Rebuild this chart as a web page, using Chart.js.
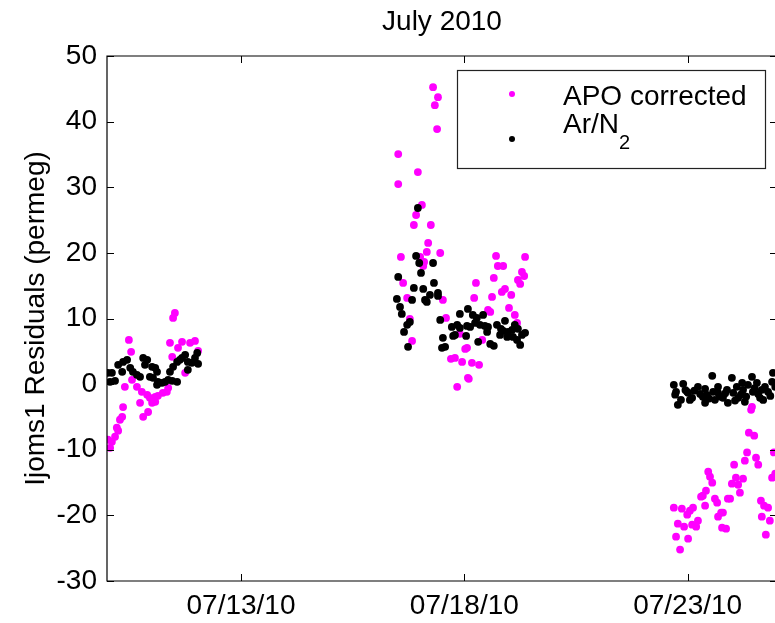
<!DOCTYPE html>
<html>
<head>
<meta charset="utf-8">
<script src="https://cdn.jsdelivr.net/npm/chart.js@4.4.1/dist/chart.umd.min.js"></script>
<style>
  html, body { margin: 0; padding: 0; overflow: hidden; background: #fff; }
  #wrap { width: 790px; height: 623px; }
</style>
</head>
<body>
<div id="wrap"><canvas id="c" width="790" height="623"></canvas></div>
<script>
// Labels
const chartTitle = 'July 2010';
const yAxisTitle = 'Ijoms1 Residuals (permeg)';
const seriesLabels = ['APO corrected', 'Ar/N2'];

// Axis ranges and ticks (x in days of July 2010)
const xRange = [10, 25];
const xTickDays = [13, 18, 23];
const yRange = [-30, 50];
const yStep = 10;

// APO corrected residuals
const apoDay = [
  11.52,11.48,10.49,10.54,11.41,11.68,11.59,11.86,11.97,12.04,11.46,11.75,10.40,10.56,10.67,10.78,10.90,10.96,11.08,11.14,
  11.25,11.34,11.37,10.74,11.01,11.08,10.36,10.92,10.34,10.29,10.81,10.22,10.25,10.18,10.02,10.11,10.07,
  17.30,17.41,17.34,17.39,16.52,16.96,16.52,17.05,16.92,16.87,17.25,17.19,17.16,17.46,16.58,17.01,17.10,17.08,16.63,16.72,
  17.52,16.78,17.59,16.83,17.70,17.79,17.84,18.71,19.36,18.75,18.87,19.29,19.34,18.26,18.66,19.20,19.25,18.84,18.91,19.05,
  18.62,18.22,19.00,18.53,18.58,19.13,19.18,18.40,18.02,18.06,17.95,18.17,18.33,18.08,18.10,17.90,
  24.44,24.42,24.37,24.49,24.33,24.28,24.04,24.53,24.58,24.93,23.46,23.50,23.55,24.08,23.99,24.13,24.24,24.17,23.41,23.30,
  23.34,23.39,23.61,23.66,23.90,23.95,22.69,22.87,22.99,23.05,23.12,23.75,23.79,23.68,22.78,22.92,23.10,23.19,23.23,23.77,
  23.86,22.74,23.01,22.83,24.64,24.71,24.80,24.66,24.84,24.75,24.89,24.96
];
const apoValue = [
  10.85,10.09,6.74,4.92,6.29,6.44,5.53,6.29,6.59,5.07,4.16,1.72,-0.41,0.65,-0.41,-1.17,-1.63,-2.08,-1.93,-1.78,
  -1.32,-1.17,-0.56,-2.85,-2.85,-2.69,-3.49,-4.25,-4.98,-5.43,-4.98,-6.65,-7.10,-8.02,-8.47,-8.78,-9.70,
  45.25,43.73,42.51,38.86,35.05,32.31,30.49,27.30,25.77,24.25,24.25,21.51,20.14,19.98,19.38,19.38,18.61,18.00,15.42,13.13,
  12.83,9.94,10.09,6.59,3.85,4.00,-0.41,19.53,19.38,18.00,18.00,17.09,16.48,15.42,16.18,15.88,15.27,14.05,14.51,13.59,
  13.29,13.13,11.61,11.31,11.00,10.55,9.33,6.74,5.37,5.53,3.39,3.24,2.94,0.96,0.81,7.66,
  -3.46,-3.91,-7.40,-7.86,-10.40,-11.67,-12.28,-11.22,-12.28,-10.40,-13.35,-14.11,-15.02,-14.26,-15.17,-15.33,-14.41,-16.54,-16.24,-17.15,
  -17.00,-18.52,-17.46,-18.07,-17.46,-17.46,-18.83,-18.98,-19.89,-19.28,-18.83,-19.58,-19.58,-20.20,-21.26,-21.72,-21.42,-21.72,-20.81,-21.87,
  -22.02,-23.24,-23.55,-25.21,-17.76,-18.52,-18.83,-20.20,-20.81,-22.94,-14.26,-13.65
];

// Ar/N2 residuals
const arDay = [
  10.02,10.11,10.07,10.18,10.25,10.36,10.45,10.34,10.52,10.58,10.67,10.74,10.81,10.90,10.85,11.01,11.08,11.12,10.96,11.03,
  11.14,11.12,11.23,11.30,11.37,11.46,11.57,11.41,11.48,11.57,11.68,11.75,11.63,11.81,11.90,12.02,11.97,12.04,11.81,
  16.96,16.92,16.99,17.30,17.03,16.52,16.87,17.08,17.32,17.23,17.41,17.41,17.16,17.12,16.49,16.83,16.56,16.60,16.78,16.72,
  16.65,16.74,17.46,17.72,17.84,17.90,17.79,17.75,17.52,17.50,17.57,18.08,18.19,18.28,18.42,17.90,18.06,18.13,18.24,18.35,
  18.46,18.53,18.73,18.82,18.87,18.91,18.98,19.07,19.13,19.20,19.29,19.36,18.04,18.31,18.58,18.66,18.80,18.96,19.09,19.18,
  19.25,18.51,
  22.69,22.78,22.90,22.99,23.01,23.10,23.23,23.34,23.39,23.43,23.55,23.57,23.61,23.68,23.79,23.88,23.90,23.99,24.02,24.10,
  24.13,24.22,24.24,24.28,24.35,24.44,24.46,24.55,24.62,24.66,24.73,24.80,24.89,24.91,24.96,22.85,23.39,23.68,22.74,
  22.72,22.95,23.05,23.15,23.28,23.48,23.72,23.84,24.06,24.19,24.31,24.50,24.58,24.69,24.85
];
const arValue = [
  1.72,1.72,0.35,0.50,2.94,3.39,3.70,1.87,2.48,1.87,1.42,1.11,4.00,3.70,2.94,2.63,2.48,1.87,1.11,0.96,
  0.35,-0.11,0.20,0.35,0.65,0.50,0.35,1.87,2.63,3.39,4.00,4.46,3.70,3.39,3.24,4.76,4.00,3.09,2.18,
  26.84,19.53,18.46,18.46,16.94,16.33,14.66,14.51,15.42,13.59,13.90,13.44,12.53,12.83,12.98,12.83,11.77,10.70,9.48,9.03,
  7.96,5.68,9.79,8.72,9.03,10.70,7.50,7.35,7.05,5.53,5.68,11.46,10.55,10.09,10.55,8.57,8.87,8.72,9.33,9.03,
  8.87,8.72,9.03,8.42,8.11,9.64,7.96,8.27,9.03,8.42,7.50,7.81,7.35,6.44,6.13,5.83,7.50,7.20,7.20,6.74,
  5.98,7.96,
  -0.11,-3.15,0.05,-1.17,-1.32,-2.08,-0.41,-1.93,-2.85,-1.63,1.26,-1.17,-2.39,-1.32,-2.08,-0.87,-2.85,0.96,-1.32,-0.41,
  -2.08,0.20,-0.87,-2.69,-0.11,1.11,-1.17,0.20,-2.08,-0.87,-0.41,-1.17,0.35,1.72,-0.41,-2.39,-0.72,-0.41,-1.17,
  -1.60,-0.90,-2.40,-1.00,-1.50,-2.20,-1.90,-1.40,-2.50,-1.60,-1.90,-0.60,-1.50,-2.40,-1.80
];

const FONT = "'Liberation Sans', Arial, Helvetica, sans-serif";
Chart.defaults.font.family = FONT;
Chart.defaults.color = '#000';

const toPoints = (xs, ys) => xs.map((x, i) => ({ x: x, y: ys[i] }));
const pad2 = n => (n < 10 ? '0' : '') + n;

// Box frame with inward ticks on all four sides, plus the legend box
const framePlugin = {
  id: 'frame',
  afterDatasetsDraw(chart) {
    const { ctx, chartArea: a, scales } = chart;
    const tl = 7;
    ctx.save();
    ctx.strokeStyle = '#000';
    ctx.lineWidth = 1.2;
    ctx.beginPath();
    ctx.rect(a.left, a.top, a.right - a.left, a.bottom - a.top);
    ctx.stroke();
    ctx.lineWidth = 1;
    ctx.beginPath();
    scales.x.ticks.forEach(t => {
      const px = Math.round(scales.x.getPixelForValue(t.value)) + 0.5;
      ctx.moveTo(px, a.bottom); ctx.lineTo(px, a.bottom - tl);
      ctx.moveTo(px, a.top); ctx.lineTo(px, a.top + tl);
    });
    scales.y.ticks.forEach(t => {
      const py = Math.round(scales.y.getPixelForValue(t.value)) + 0.5;
      ctx.moveTo(a.left, py); ctx.lineTo(a.left + tl, py);
      ctx.moveTo(a.right, py); ctx.lineTo(a.right - tl, py);
    });
    ctx.stroke();
    ctx.restore();
  },
  afterDraw(chart) {
    const { ctx, chartArea: a } = chart;
    const w = 308, h = 98;
    const left = a.left + 350, top = a.top + 14;
    ctx.save();
    ctx.fillStyle = '#fff';
    ctx.fillRect(left, top, w, h);
    ctx.strokeStyle = '#222';
    ctx.lineWidth = 1.2;
    ctx.strokeRect(left + 0.5, top + 0.5, w, h);
    const rows = [24, 69];
    chart.data.datasets.forEach((ds, i) => {
      const cy = top + rows[i];
      ctx.fillStyle = ds.backgroundColor;
      ctx.beginPath();
      ctx.arc(left + 55, cy, 3, 0, Math.PI * 2);
      ctx.fill();
      ctx.fillStyle = '#000';
      ctx.textAlign = 'left';
      ctx.textBaseline = 'alphabetic';
      ctx.font = '28px ' + FONT;
      const m = ds.label.match(/^(.*?)(\d+)$/);
      if (m) {
        // trailing digits are set as a subscript (Ar/N2)
        const base = top + (i === 0 ? 35 : 63);
        ctx.fillText(m[1], left + 106, base);
        const wMain = ctx.measureText(m[1]).width;
        ctx.font = '20px ' + FONT;
        ctx.fillText(m[2], left + 106 + wMain, base + 16);
      } else {
        ctx.fillText(ds.label, left + 106, top + 35);
      }
    });
    ctx.restore();
  }
};

new Chart(document.getElementById('c'), {
  type: 'scatter',
  data: {
    datasets: [
      {
        label: seriesLabels[0],
        data: toPoints(apoDay, apoValue),
        backgroundColor: '#ff00ff',
        borderColor: '#ff00ff',
        pointRadius: 3.9,
        pointBorderWidth: 0,
        order: 1
      },
      {
        label: seriesLabels[1],
        data: toPoints(arDay, arValue),
        backgroundColor: '#000000',
        borderColor: '#000000',
        pointRadius: 3.9,
        pointBorderWidth: 0,
        order: 0
      }
    ]
  },
  options: {
    responsive: false,
    animation: false,
    devicePixelRatio: 1,
    layout: { padding: { left: 0, right: 13, top: 0, bottom: 0 } },
    plugins: {
      legend: { display: false },
      tooltip: { enabled: false },
      title: {
        display: true,
        text: chartTitle,
        fullSize: false,
        color: '#000',
        font: { family: FONT, size: 28, weight: 'normal' },
        padding: { top: 5, bottom: 17.4 }
      }
    },
    scales: {
      x: {
        type: 'linear',
        min: xRange[0],
        max: xRange[1],
        grid: { display: false, drawTicks: false },
        border: { display: false },
        afterBuildTicks: s => { s.ticks = xTickDays.map(v => ({ value: v })); },
        afterFit: s => { s.height = 42; },
        ticks: {
          autoSkip: false,
          maxRotation: 0,
          padding: 8,
          color: '#000',
          font: { family: FONT, size: 28 },
          callback: v => '07/' + pad2(v) + '/10'
        }
      },
      y: {
        type: 'linear',
        min: yRange[0],
        max: yRange[1],
        grid: { display: false, drawTicks: false },
        border: { display: false },
        afterFit: s => { s.width = 107; },
        ticks: {
          stepSize: yStep,
          padding: 10,
          color: '#000',
          font: { family: FONT, size: 28 },
          callback: v => String(v)
        },
        title: {
          display: true,
          text: yAxisTitle,
          color: '#000',
          font: { family: FONT, size: 28 },
          padding: { top: 19, bottom: 0 }
        }
      }
    }
  },
  plugins: [framePlugin]
});
</script>
</body>
</html>
